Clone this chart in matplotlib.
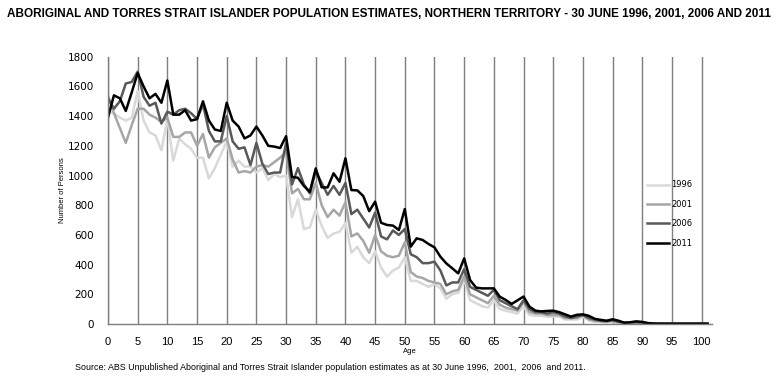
import numpy as np
import matplotlib.pyplot as plt

# ages 0..101, values (persons)
ages = np.arange(0, 102)

pop_1996 = [1430, 1420, 1390, 1370, 1390, 1570, 1370, 1290, 1270, 1170,
            1380, 1100, 1250, 1210, 1180, 1120, 1120, 980, 1050, 1140,
            1230, 1060, 1100, 1060, 1060, 1020, 1050, 970, 1010, 990,
            1000, 720, 840, 640, 650, 770, 660, 580, 610, 620,
            680, 480, 520, 450, 410, 490, 380, 320, 360, 380,
            450, 290, 290, 270, 250, 270, 240, 170, 200, 210,
            300, 160, 140, 120, 110, 160, 100, 90, 80, 70,
            120, 60, 55, 55, 50, 50, 50, 30, 30, 30,
            50, 25, 15, 15, 10, 15, 8, 5, 5, 6,
            5, 3, 2, 2, 2, 3, 2, 2, 2, 2,
            3, 2]

pop_2001 = [1540, 1420, 1320, 1220, 1340, 1450, 1450, 1410, 1390, 1360,
            1390, 1260, 1260, 1290, 1290, 1200, 1280, 1120, 1190, 1220,
            1250, 1110, 1020, 1030, 1020, 1060, 1070, 1060, 1090, 1120,
            1160, 880, 910, 840, 840, 950, 800, 720, 770, 730,
            820, 590, 610, 560, 480, 600, 490, 460, 450, 460,
            550, 350, 320, 310, 290, 280, 270, 200, 220, 230,
            320, 200, 180, 160, 140, 190, 130, 110, 100, 90,
            150, 80, 70, 70, 60, 60, 60, 40, 40, 40,
            60, 30, 20, 20, 15, 20, 10, 8, 8, 10,
            6, 4, 2, 2, 3, 5, 2, 2, 2, 3,
            5, 2]

pop_2006 = [1520, 1450, 1500, 1620, 1630, 1700, 1530, 1470, 1490, 1350,
            1430, 1410, 1440, 1450, 1420, 1380, 1480, 1300, 1230, 1230,
            1400, 1230, 1180, 1190, 1070, 1220, 1080, 1010, 1020, 1020,
            1220, 940, 1050, 940, 880, 1030, 950, 870, 930, 870,
            950, 740, 770, 710, 650, 750, 590, 570, 630, 600,
            640, 470, 450, 410, 410, 420, 360, 260, 280, 280,
            370, 250, 230, 210, 190, 230, 160, 140, 120, 100,
            160, 100, 80, 80, 70, 80, 70, 50, 40, 50,
            60, 40, 30, 20, 20, 25, 15, 10, 10, 12,
            10, 5, 2, 2, 2, 2, 2, 2, 2, 2,
            2, 2]

pop_2011 = [1390, 1540, 1520, 1435, 1560, 1690, 1600, 1520, 1550, 1490,
            1640, 1410, 1410, 1440, 1370, 1380, 1500, 1370, 1310, 1300,
            1490, 1370, 1330, 1250, 1270, 1330, 1270, 1200, 1195, 1185,
            1265, 990, 985, 930, 890, 1048, 920, 920, 1015, 958,
            1116, 902, 900, 862, 760, 824, 682, 667, 663, 633,
            774, 521, 577, 566, 539, 516, 453, 408, 375, 341,
            442, 296, 245, 240, 240, 240, 184, 162, 135, 160,
            185, 117, 90, 85, 88, 90, 80, 65, 50, 62,
            65, 55, 35, 28, 22, 32, 22, 8, 12, 18,
            14, 6, 3, 2, 2, 2, 2, 2, 2, 2,
            2, 2]

years = ['1996', '2001', '2006', '2011']
series = [pop_1996, pop_2001, pop_2006, pop_2011]
colores = ['#d9d9d9', '#a6a6a6', '#595959', '#000000']

narrow = ['Liberation Sans', 'DejaVu Sans']

fig = plt.figure(figsize=(7.78, 3.86), dpi=100)
ax = fig.add_axes([0.1388, 0.1606, 0.7760, 0.6924])

for yr, vals, c in zip(years, series, colores):
    ax.plot(ages, vals, color=c, lw=1.8, label=yr)

ax.set_xlim(0, 101.7)
ax.set_ylim(0, 1800)
ax.set_xticks(np.arange(0, 101, 5))
ax.set_yticks(np.arange(0, 1801, 200))

# vertical gridlines every 5 years
ax.grid(axis='x', color='#7f7f7f', lw=1)
ax.set_axisbelow(True)
for s in ['top', 'right']:
    ax.spines[s].set_visible(False)
for s in ['left', 'bottom']:
    ax.spines[s].set_color('#7f7f7f')
    ax.spines[s].set_linewidth(1)

ax.tick_params(axis='both', length=0)
ax.tick_params(axis='y', pad=10, labelsize=7.5)
ax.tick_params(axis='x', pad=9, labelsize=8)
for lab in ax.get_xticklabels():
    lab.set_family(narrow)

ax.set_xlabel('Age', fontsize=5.5, family=narrow, labelpad=1)
ax.set_ylabel('Number of Persons', fontsize=5.5, family=narrow, labelpad=1)

leg = fig.legend(loc='upper left', bbox_to_anchor=(0.822, 0.552),
                 frameon=False, fontsize=6, handlelength=2.6,
                 handletextpad=0.3, labelspacing=1.25)

fig.text(0.5, 0.963, 'ABORIGINAL AND TORRES STRAIT ISLANDER POPULATION ESTIMATES, NORTHERN TERRITORY - 30 JUNE 1996, 2001, 2006 AND 2011',
         ha='center', va='center', fontsize=8.5, fontweight='bold', family=narrow)
fig.text(0.096, 0.047, 'Source: ABS Unpublished Aboriginal and Torres Strait Islander population estimates as at 30 June 1996,  2001,  2006  and 2011.',
         ha='left', va='center', fontsize=6.4, family=narrow)

fig.savefig('out.png', dpi=100)
